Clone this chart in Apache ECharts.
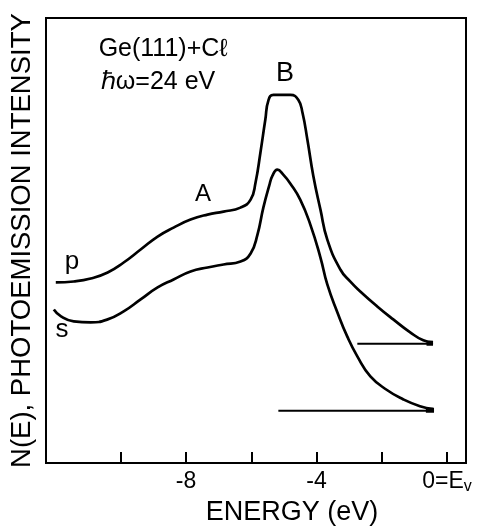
<!DOCTYPE html>
<html>
<head>
<meta charset="utf-8">
<script src="https://cdn.jsdelivr.net/npm/echarts@6/dist/echarts.min.js"></script>
<style>html,body{margin:0;padding:0;background:#fff}#c{width:477px;height:531px}</style>
</head>
<body>
<div id="c"></div>
<script>
// Energy (eV) and photoemission intensity (arb. units) for p-polarisation
const energyP = [-11.99,-11.44,-10.92,-10.40,-9.91,-9.39,-8.87,-8.38,-7.86,-7.34,-6.85,-6.33,-6.02,-5.87,-5.72,-5.57,-5.47,-5.32,-4.80,-4.56,-4.43,-4.28,-4.10,-3.88,-3.67,-3.27,-2.97,-2.66,-2.14,-1.65,-1.13,-0.73,-0.43];
const intensityP = [18.1,18.2,18.5,19.1,20.1,21.4,22.7,23.6,24.4,24.9,25.2,25.6,26.4,28.1,31.1,34.4,36.4,36.9,36.9,36.4,35.1,32.4,28.8,25.4,22.4,19.4,18.2,17.2,15.7,14.4,13.1,12.3,12.1];
// s-polarisation
const energyS = [-12.05,-11.83,-11.44,-10.92,-10.40,-9.91,-9.39,-8.87,-8.38,-7.86,-7.34,-6.85,-6.33,-6.02,-5.81,-5.63,-5.45,-5.35,-5.20,-5.02,-4.80,-4.50,-4.19,-3.88,-3.67,-3.36,-3.06,-2.75,-2.35,-1.83,-1.35,-0.83,-0.43];
const intensityS = [15.4,14.7,14.2,14.1,14.4,15.2,16.4,17.6,18.4,19.2,19.6,19.9,20.2,21.0,22.9,25.6,27.8,28.8,29.4,28.9,28.0,26.4,23.9,20.6,17.9,15.1,12.7,10.7,8.7,7.3,6.4,5.7,5.4];
// zero-intensity reference lines [startE, endE, level]
const baselineP = [-2.75, -0.43, 11.95];
const baselineS = [-5.17, -0.40, 5.25];
// tick positions and labels
const tickValues = [-10, -8, -6, -4, -2, 0];
const labelValues = [-8, -4, 0];

const pairs = (xs, ys) => xs.map((x, i) => [x, ys[i]]);
const lineStyle = {color: '#000', width: 2.7};
const FONT = 'Liberation Sans';

const chart = echarts.init(document.getElementById('c'));
chart.setOption({
  animation: false,
  backgroundColor: '#fff',
  grid: {left: 45, right: 11, top: 18, bottom: 67, show: true, borderColor: '#000', borderWidth: 2},
  xAxis: {
    type: 'value', min: -12.29, max: 0.58,
    axisLine: {show: true, onZero: false, lineStyle: {color: '#000', width: 2}},
    axisTick: {show: true, inside: true, length: 11, customValues: tickValues, lineStyle: {color: '#000', width: 2}},
    axisLabel: {
      customValues: labelValues, margin: 7, color: '#000', fontFamily: FONT, fontSize: 23,
      formatter: v => v === 0 ? '0=E{sub|v}' : String(v),
      rich: {sub: {fontSize: 16, fontFamily: FONT, color: '#000', verticalAlign: 'bottom', padding: [8, 0, 0, 0]}}
    },
    splitLine: {show: false},
    name: 'ENERGY (eV)', nameLocation: 'middle', nameGap: 30,
    nameTextStyle: {color: '#000', fontFamily: FONT, fontSize: 27, padding: [0, 0, 0, 72]}
  },
  yAxis: {
    type: 'value', min: 0, max: 44.6,
    axisLine: {show: true, onZero: false, lineStyle: {color: '#000', width: 2}},
    axisTick: {show: false}, axisLabel: {show: false}, splitLine: {show: false},
    name: 'N(E), PHOTOEMISSION INTENSITY', nameLocation: 'middle', nameGap: 10, nameRotate: 90,
    nameTextStyle: {color: '#000', fontFamily: FONT, fontSize: 27.5}
  },
  series: [
    {type: 'line', name: 'p', data: pairs(energyP, intensityP), smooth: 0.5, showSymbol: false, lineStyle},
    {type: 'line', name: 's', data: pairs(energyS, intensityS), smooth: 0.5, showSymbol: false, lineStyle},
    {type: 'line', data: [[baselineP[0], baselineP[2]], [baselineP[1], baselineP[2]]], showSymbol: false, lineStyle: {color: '#000', width: 2}},
    {type: 'line', data: [[baselineS[0], baselineS[2]], [baselineS[1], baselineS[2]]], showSymbol: false, lineStyle: {color: '#000', width: 2}},
    {type: 'line', data: [[baselineP[1] - 0.2, baselineP[2] + 0.05], [baselineP[1], baselineP[2] + 0.05]], showSymbol: false, lineStyle: {color: '#000', width: 5}},
    {type: 'line', data: [[baselineS[1] - 0.25, baselineS[2] + 0.05], [baselineS[1], baselineS[2] + 0.05]], showSymbol: false, lineStyle: {color: '#000', width: 5}}
  ],
  graphic: [
    {type: 'text', style: {text: 'Ge(111)+Cℓ', x: 163, y: 49, align: 'center', verticalAlign: 'middle', font: '25px "Liberation Sans"', fill: '#000'}},
    {type: 'text', style: {text: 'ℏω=24 eV', x: 158, y: 82, align: 'center', verticalAlign: 'middle', font: '25px "Liberation Sans"', fill: '#000'}},
    {type: 'text', style: {text: 'A', x: 203, y: 194, align: 'center', verticalAlign: 'middle', font: '24px "Liberation Sans"', fill: '#000'}},
    {type: 'text', style: {text: 'B', x: 285, y: 74, align: 'center', verticalAlign: 'middle', font: '27px "Liberation Sans"', fill: '#000'}},
    {type: 'text', style: {text: 'p', x: 72, y: 262, align: 'center', verticalAlign: 'middle', font: '26px "Liberation Sans"', fill: '#000'}},
    {type: 'text', style: {text: 's', x: 62, y: 330, align: 'center', verticalAlign: 'middle', font: '26px "Liberation Sans"', fill: '#000'}}
  ]
});
</script>
</body>
</html>
